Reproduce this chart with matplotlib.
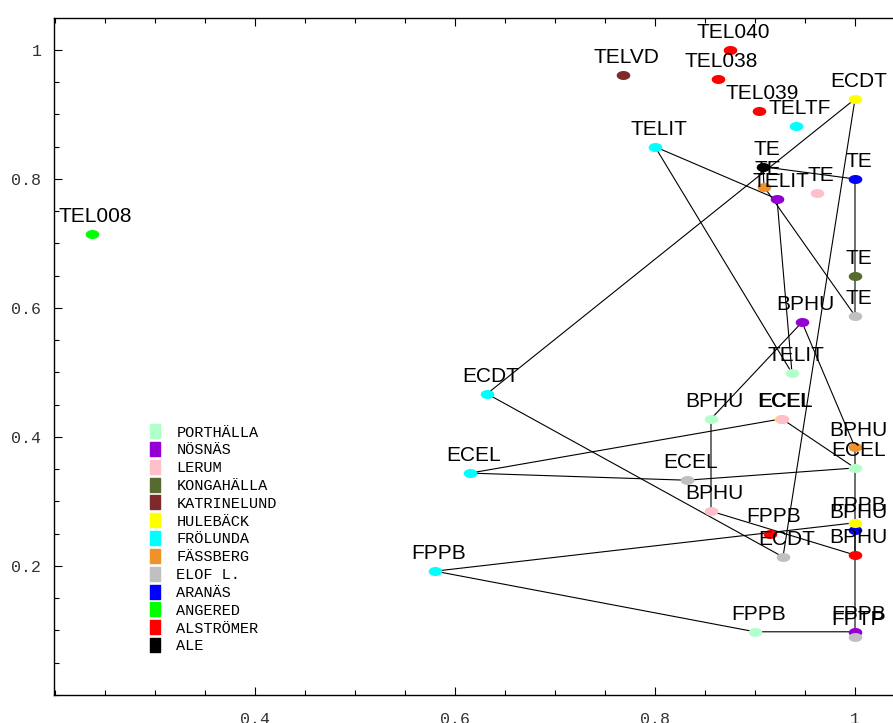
"""
Site/test scatter with convex hull outlines per test
"""
import numpy as np
import matplotlib
matplotlib.use("Agg")
import matplotlib.pyplot as plt
from matplotlib.path import Path
from matplotlib.lines import Line2D
from matplotlib.ticker import MultipleLocator

# sites shown in the legend (top to bottom) and their colours
sites = ["PORTHÄLLA", "NÖSNÄS", "LERUM", "KONGAHÄLLA", "KATRINELUND", "HULEBÄCK",
         "FRÖLUNDA", "FÄSSBERG", "ELOF L.", "ARANÄS", "ANGERED", "ALSTRÖMER", "ALE"]
site_colors = ["#b3ffcc", "#9400d3", "#ffc0cb", "#556b2f", "#7f2a2a", "#ffff00",
               "#00ffff", "#f0922a", "#c0c0c0", "#0000ff", "#00ff00", "#ff0000", "#000000"]

# one entry per plotted point
tests = ["TEL008", "TELVD", "TEL040", "TEL038", "TEL039", "TELTF",
         "TELIT", "TELIT", "TELIT",
         "TE", "TE", "TE", "TE", "TE", "TE",
         "BPHU", "BPHU", "BPHU", "BPHU", "BPHU", "BPHU",
         "ECDT", "ECDT", "ECDT",
         "ECEL", "ECEL", "ECEL", "ECEL", "ECEL",
         "FPPB", "FPPB", "FPPB", "FPPB", "FPPB",
         "FPTP"]
point_sites = ["ANGERED", "KATRINELUND", "ALSTRÖMER", "ALSTRÖMER", "ALSTRÖMER", "FRÖLUNDA",
               "FRÖLUNDA", "NÖSNÄS", "PORTHÄLLA",
               "ALE", "FÄSSBERG", "LERUM", "ARANÄS", "KONGAHÄLLA", "ELOF L.",
               "NÖSNÄS", "PORTHÄLLA", "FÄSSBERG", "LERUM", "ARANÄS", "ALSTRÖMER",
               "HULEBÄCK", "FRÖLUNDA", "ELOF L.",
               "HULEBÄCK", "LERUM", "FRÖLUNDA", "ELOF L.", "PORTHÄLLA",
               "ALSTRÖMER", "FRÖLUNDA", "PORTHÄLLA", "NÖSNÄS", "HULEBÄCK",
               "ELOF L."]
x_vals = [0.237, 0.768, 0.875, 0.863, 0.904, 0.941,
          0.800, 0.922, 0.937,
          0.908, 0.909, 0.962, 1.000, 1.000, 1.000,
          0.947, 0.856, 1.000, 0.856, 1.000, 1.000,
          1.000, 0.632, 0.928,
          0.926, 0.927, 0.615, 0.832, 1.000,
          0.915, 0.580, 0.900, 1.000, 1.000,
          1.000]
y_vals = [0.715, 0.961, 1.000, 0.955, 0.905, 0.882,
          0.850, 0.769, 0.499,
          0.819, 0.788, 0.778, 0.800, 0.650, 0.588,
          0.578, 0.428, 0.384, 0.285, 0.256, 0.217,
          0.924, 0.467, 0.214,
          0.428, 0.428, 0.344, 0.333, 0.352,
          0.250, 0.192, 0.098, 0.098, 0.267,
          0.090]

x_ticks = [0.4, 0.6, 0.8, 1.0]
x_ticklabels = ["0.4", "0.6", "0.8", "1"]
y_ticks = [0.2, 0.4, 0.6, 0.8, 1.0]
y_ticklabels = ["0.2", "0.4", "0.6", "0.8", "1"]


def convex_hull(pts):
    pts = sorted(set(pts))
    if len(pts) < 3:
        return pts

    def cross(o, a, b):
        return (a[0] - o[0]) * (b[1] - o[1]) - (a[1] - o[1]) * (b[0] - o[0])

    lower, upper = [], []
    for p in pts:
        while len(lower) >= 2 and cross(lower[-2], lower[-1], p) <= 0:
            lower.pop()
        lower.append(p)
    for p in reversed(pts):
        while len(upper) >= 2 and cross(upper[-2], upper[-1], p) <= 0:
            upper.pop()
        upper.append(p)
    return lower[:-1] + upper[:-1]


color_of = dict(zip(sites, site_colors))

# flattened disk marker
t = np.linspace(0, 2 * np.pi, 41)
blob = Path(np.column_stack([np.cos(t), 0.62 * np.sin(t)]), closed=True)
box = Path([(-0.38, -0.5), (0.38, -0.5), (0.38, 0.5), (-0.38, 0.5), (-0.38, -0.5)], closed=True)

fig = plt.figure(figsize=(8.93, 7.23), dpi=100)
ax = fig.add_axes([54 / 893, 28 / 723, 1 - 54 / 893, 677 / 723])

# hull outline of each test group
for test in dict.fromkeys(tests):
    pts = [(x, y) for x, y, tt in zip(x_vals, y_vals, tests) if tt == test]
    h = convex_hull(pts)
    if len(h) < 2:
        continue
    if len(h) > 2:
        h = h + [h[0]]
    hx, hy = zip(*h)
    ax.plot(hx, hy, color="black", lw=0.8, zorder=1)

for x, y, s in zip(x_vals, y_vals, point_sites):
    ax.plot(x, y, marker=blob, ms=8.8, color=color_of[s], mec=color_of[s], ls="none", zorder=2)

for x, y, tt in zip(x_vals, y_vals, tests):
    ax.annotate(tt, (x, y), xytext=(2.5, 8.5), textcoords="offset points",
                ha="center", va="baseline", fontsize=15, family="Liberation Sans",
                color="black", zorder=3)

ax.set_xlim(0.199, 1.038)
ax.set_ylim(0, 1.0496)
ax.set_xticks(x_ticks)
ax.set_xticklabels(x_ticklabels)
ax.set_yticks(y_ticks)
ax.set_yticklabels(y_ticklabels)
ax.xaxis.set_minor_locator(MultipleLocator(0.05))
ax.yaxis.set_minor_locator(MultipleLocator(0.05))
ax.tick_params(which="both", direction="in", top=True, right=False, width=0.8, color="black")
ax.tick_params(which="major", length=6)
ax.tick_params(which="minor", length=3.5)
ax.tick_params(axis="x", pad=12)
ax.tick_params(axis="y", pad=9)
for lab in ax.get_xticklabels() + ax.get_yticklabels():
    lab.set_family("Liberation Mono")
    lab.set_fontsize(12)
    lab.set_color("#333333")
ax.spines["right"].set_visible(False)
for sp in ("left", "bottom", "top"):
    ax.spines[sp].set_linewidth(1.0)

handles = [Line2D([], [], marker=box, ms=9.4, color=c, ls="none") for c in site_colors]
ax.legend(handles, sites, loc="upper left", bbox_to_anchor=(0.113, 0.398),
          frameon=False, borderpad=0, handlelength=0.8, handletextpad=1.0,
          labelspacing=0.25, borderaxespad=0,
          prop={"family": "Liberation Mono", "size": 11})

fig.savefig("out.png", dpi=100)
